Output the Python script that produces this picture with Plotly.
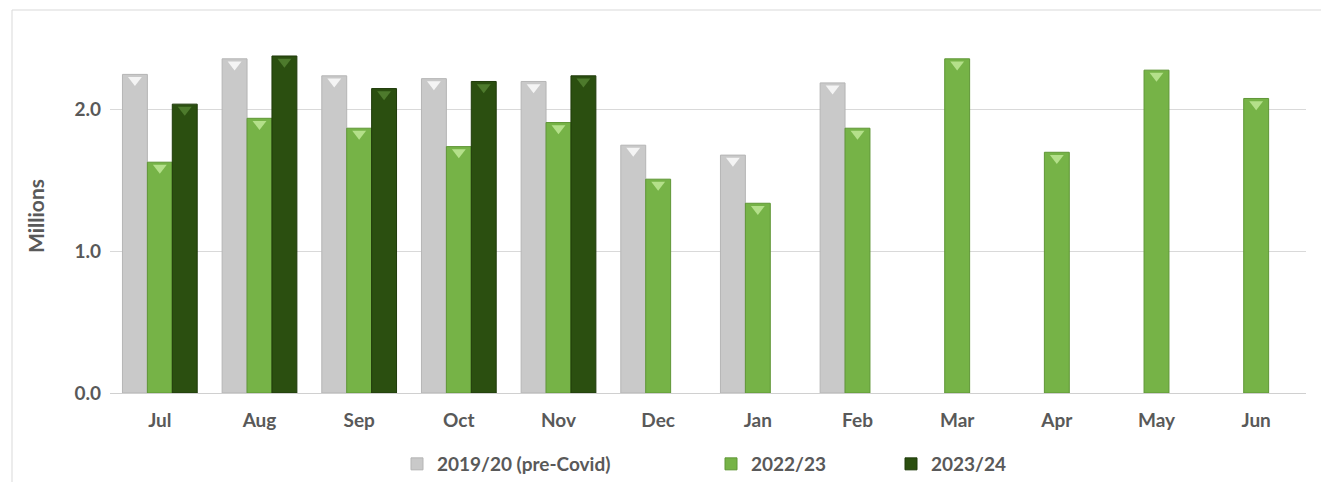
import plotly.graph_objects as go

months = ["Jul", "Aug", "Sep", "Oct", "Nov", "Dec", "Jan", "Feb", "Mar", "Apr", "May", "Jun"]
s2019 = [2.25, 2.36, 2.24, 2.22, 2.20, 1.75, 1.68, 2.19, None, None, None, None]
s2022 = [1.63, 1.94, 1.87, 1.74, 1.91, 1.51, 1.34, 1.87, 2.36, 1.70, 2.28, 2.08]
s2023 = [2.04, 2.38, 2.15, 2.20, 2.24, None, None, None, None, None, None, None]
names = ["2019/20 (pre-Covid)", "2022/23", "2023/24"]
y_ticks = [0, 1, 2]
y_tick_text = ["0.0", "1.0", "2.0"]

colors = ["#c9c9c9", "#76b347", "#2b4f10"]
edge = ["#b5b5b5", "#5f9636", "#1f3a0a"]
tri = ["#f4f4f4", "#b4e08a", "#4d7a2c"]

FONT = "Lato, 'Open Sans', sans-serif"
TXT = "#595959"
fig = go.Figure()
series = [s2019, s2022, s2023]
legends = ["legend", "legend2", "legend3"]
for i, (nm, vals) in enumerate(zip(names, series)):
    fig.add_trace(go.Bar(
        x=months, y=vals, name=nm, offsetgroup=str(i),
        marker=dict(color=colors[i], line=dict(color=edge[i], width=1)),
        legend=legends[i],
    ))
for i, vals in enumerate(series):
    fig.add_trace(go.Scatter(
        x=months, y=[None if v is None else v - 0.04 for v in vals],
        mode="markers", offsetgroup=str(i), showlegend=False, hoverinfo="skip",
        marker=dict(symbol="triangle-down", size=12, color=tri[i], line=dict(width=0)),
    ))

W, H = 1321, 482
L, R, T, B = 110, 15, 39, 89
pw, ph = W - L - R, H - T - B

def px(x):
    return (x - L) / pw

def py(y):
    return (H - B - y) / ph

leg_common = dict(orientation="h", yanchor="middle", xanchor="left",
                  font=dict(family=FONT, size=19, color=TXT, weight="bold"),
                  bgcolor="rgba(0,0,0,0)", itemwidth=30)
fig.update_layout(
    width=W, height=H,
    margin=dict(l=L, r=R, t=T, b=B, autoexpand=False),
    paper_bgcolor="white", plot_bgcolor="white",
    barmode="group", bargap=0.25, bargroupgap=0,
    scattermode="group", scattergap=0.25,
    legend=dict(x=px(397), y=py(464), **leg_common),
    legend2=dict(x=px(711), y=py(464), **leg_common),
    legend3=dict(x=px(891), y=py(464), **leg_common),
    xaxis=dict(showgrid=False, showline=False, ticks="",
               tickfont=dict(family=FONT, size=19, color=TXT, weight="bold"),
               ticklabelstandoff=14, automargin=False),
    yaxis=dict(range=[0, 2.5], tickvals=y_ticks, ticktext=y_tick_text,
               showgrid=True, gridcolor="#d9d9d9", gridwidth=1,
               zeroline=True, zerolinecolor="#d0d0d0", zerolinewidth=1,
               tickfont=dict(family=FONT, size=19, color=TXT, weight="bold"),
               ticklabelstandoff=8, automargin=False,
               title=dict(text="Millions", standoff=24,
                          font=dict(family=FONT, size=21, color=TXT, weight="bold"))),
    shapes=[dict(type="rect", xref="paper", yref="paper",
                 x0=px(12), x1=px(1330), y0=py(490), y1=py(10),
                 line=dict(color="#d9d9d9", width=1), fillcolor="rgba(0,0,0,0)", layer="below")],
    showlegend=True,
)
fig.write_html("out.html")
